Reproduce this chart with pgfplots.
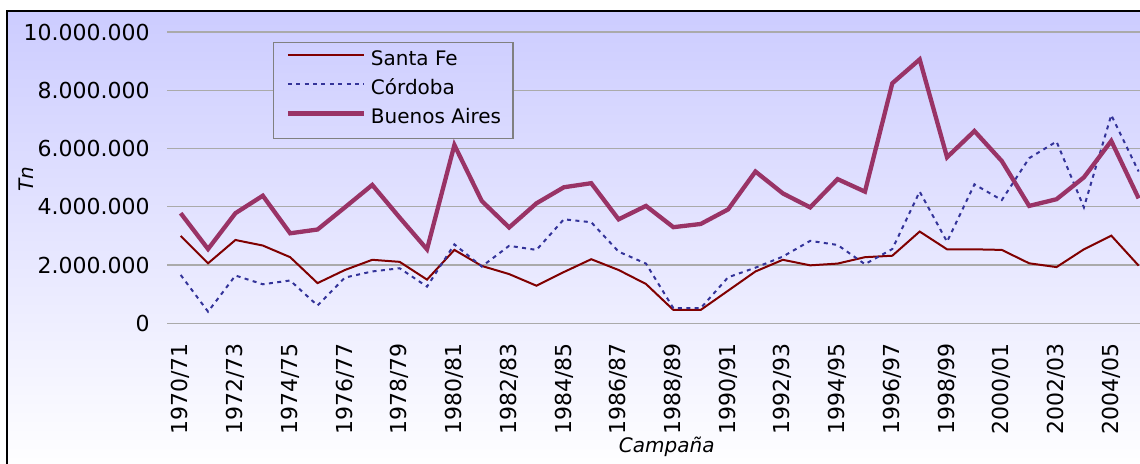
\documentclass[border=0pt]{standalone}
\usepackage{pgfplots}
\pgfplotsset{compat=1.18}
\usepackage{pgfplotstable}
\usepackage{fontspec}
\setmainfont{DejaVu Sans}
\definecolor{sf}{RGB}{128,0,0}
\definecolor{co}{RGB}{51,51,153}
\definecolor{ba}{RGB}{153,51,102}
\definecolor{bgtop}{RGB}{204,204,255}
\definecolor{gridc}{RGB}{170,170,170}
\definecolor{legtop}{RGB}{207,207,255}
\definecolor{legbot}{RGB}{218,218,255}

\pgfplotstableread{
x sf co ba
0 3000000 1660000 3780000
1 2060000 400000 2550000
2 2860000 1640000 3780000
3 2670000 1340000 4380000
4 2270000 1470000 3090000
5 1380000 610000 3220000
6 1830000 1570000 3980000
7 2180000 1780000 4750000
8 2110000 1890000 3630000
9 1500000 1260000 2540000
10 2520000 2710000 6120000
11 1970000 1950000 4200000
12 1690000 2660000 3290000
13 1290000 2520000 4120000
14 1760000 3570000 4670000
15 2200000 3470000 4810000
16 1830000 2460000 3570000
17 1350000 2050000 4030000
18 460000 520000 3300000
19 460000 520000 3410000
20 1120000 1580000 3910000
21 1780000 1910000 5210000
22 2180000 2290000 4460000
23 1990000 2830000 3980000
24 2050000 2690000 4950000
25 2270000 2030000 4520000
26 2320000 2550000 8240000
27 3150000 4520000 9060000
28 2540000 2800000 5700000
29 2540000 4770000 6600000
30 2520000 4230000 5570000
31 2060000 5670000 4030000
32 1930000 6240000 4260000
33 2540000 3980000 5010000
34 3010000 7150000 6260000
35 1980000 5210000 4290000
}\datatable

\begin{document}
\begin{tikzpicture}
\path[use as bounding box] (0pt,0pt) rectangle (570pt,231.5pt);
\fill[white] (0pt,0pt) rectangle (570pt,231.5pt);
\shade[top color=bgtop, bottom color=white] (3.5pt,-4pt) rectangle (580pt,226pt);
\draw[black, line width=0.6pt] (3.5pt,-4pt) -- (3.5pt,226pt) -- (580pt,226pt);
\begin{axis}[
  at={(83.5pt,69.85pt)}, anchor=south west, scale only axis,
  width=486.5pt, height=145.65pt,
  xmin=-0.5, xmax=35.05, ymin=0, ymax=10000000,
  axis line style={draw=none},
  tick style={draw=none},
  ymajorgrids, grid style={gridc, line width=0.65pt},
  xtick={0,2,...,34},
  xticklabels={1970/71,1972/73,1974/75,1976/77,1978/79,1980/81,1982/83,1984/85,1986/87,1988/89,1990/91,1992/93,1994/95,1996/97,1998/99,2000/01,2002/03,2004/05},
  ytick={0,2000000,4000000,6000000,8000000,10000000},
  scaled y ticks=false,
  /pgf/number format/.cd, fixed, precision=0, 1000 sep={.}, assume math mode=true,
  /pgfplots/.cd,
  tick label style={font=\fontsize{11}{13}\selectfont},
  yticklabel style={anchor=east, inner sep=0pt},
  yticklabel shift=8.5pt,
  xticklabel style={rotate=90, anchor=east, inner sep=0pt},
  xticklabel shift=9.8pt,
  xlabel={\itshape Campaña},
  ylabel={\itshape Tn},
  label style={font=\fontsize{10}{12}\selectfont},
  xlabel style={at={(axis description cs:0.5136,0)}, anchor=base, yshift=-64.7pt},
  ylabel style={at={(axis description cs:-0.1445,0.494)}, anchor=center},
  legend cell align=left,
  legend image code/.code={\draw[#1] (0pt,3pt) -- (38pt,3pt);},
  legend style={at={(axis description cs:0.109,0.967)}, anchor=north west,
    draw={rgb,255:red,128;green,128;blue,128}, line width=0.6pt,
    top color=legtop, bottom color=legbot,
    inner xsep=6pt, inner ysep=4.15pt, row sep=3.95pt, column sep=2.5pt,
    font=\fontsize{10}{12}\selectfont,
    nodes={inner sep=0pt, text height=7.3pt, text depth=3.35pt}},
]
\addplot[sf, line width=1pt] table[x=x, y=sf] {\datatable};
\addlegendentry{Santa Fe}
\addplot[co, line width=1pt, dash pattern=on 2pt off 2.2pt] table[x=x, y=co] {\datatable};
\addlegendentry{Córdoba}
\addplot[ba, line width=2.15pt] table[x=x, y=ba] {\datatable};
\addlegendentry{Buenos Aires}
\end{axis}
\end{tikzpicture}
\end{document}
